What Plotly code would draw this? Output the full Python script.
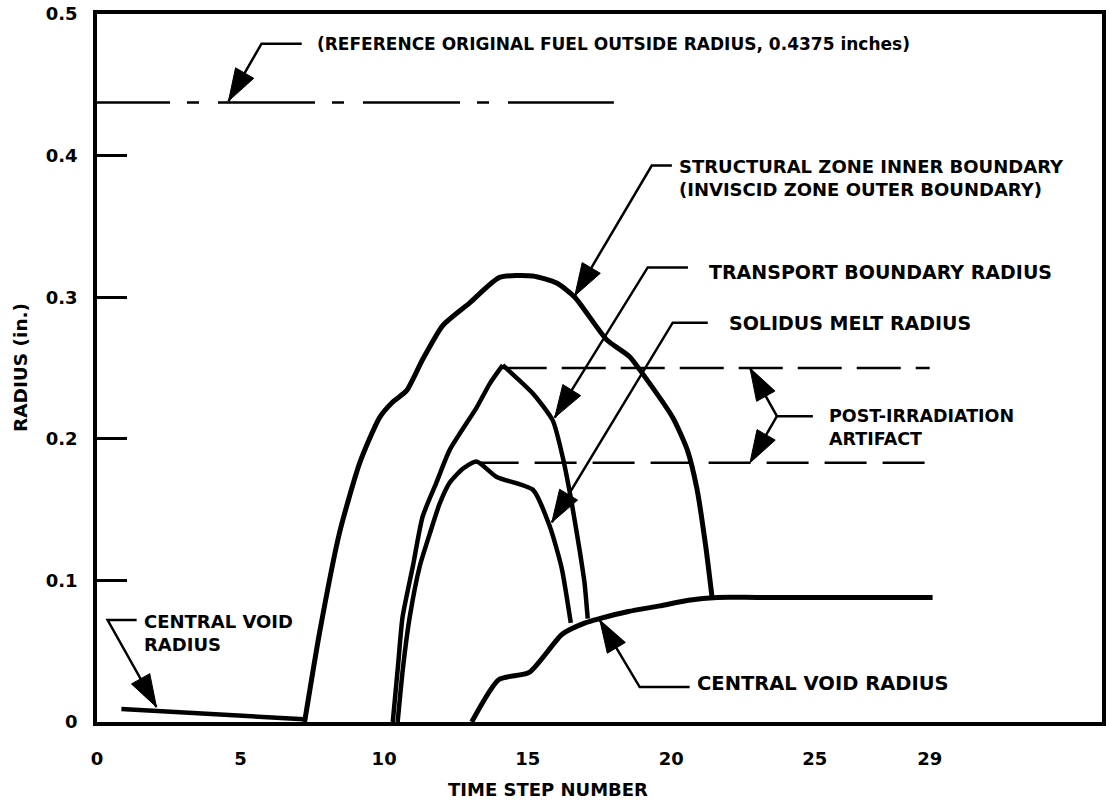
import plotly.graph_objects as go

# ---------------- data ----------------
void_early_x = [0.85, 7.2]
void_early_y = [0.0092, 0.002]

struct_x = [7.23, 7.75, 8.45, 9.15, 9.84, 10.30, 10.78, 11.34, 12.04, 12.98, 14.02,
            15.17, 16.01, 16.64, 17.75, 18.55, 19.0, 20.05, 20.56, 20.89, 21.2, 21.42]
struct_y = [0.0, 0.063, 0.134, 0.183, 0.215, 0.226, 0.234, 0.256, 0.280, 0.296, 0.314,
            0.315, 0.310, 0.300, 0.270, 0.258, 0.246, 0.215, 0.192, 0.165, 0.124, 0.088]

transport_rise_x = [10.30, 10.48, 10.64, 11.0, 11.34, 11.82, 12.28, 13.22, 13.68, 14.13]
transport_rise_y = [0.0, 0.039, 0.074, 0.110, 0.145, 0.169, 0.192, 0.222, 0.239, 0.252]
transport_fall_x = [14.13, 15.18, 15.87, 16.22, 16.53, 16.81, 16.98, 17.09]
transport_fall_y = [0.252, 0.232, 0.213, 0.187, 0.155, 0.121, 0.098, 0.073]

solidus_x = [10.47, 10.66, 10.89, 11.24, 11.59, 11.93, 12.28, 12.75, 13.22, 13.92,
             15.18, 15.77, 16.18, 16.5]
solidus_y = [0.0, 0.039, 0.074, 0.110, 0.133, 0.154, 0.169, 0.179, 0.184, 0.173,
             0.164, 0.138, 0.109, 0.070]

void_x = [13.05, 14.0, 15.05, 16.2, 17.0, 17.5, 18.5, 19.6, 20.6, 21.6, 23.0, 29.1]
void_y = [0.0, 0.030, 0.035, 0.062, 0.070, 0.073, 0.078, 0.082, 0.086, 0.088, 0.088, 0.088]

ref_radius = 0.4375
ref_x = [0.0, 18.0]
artifact_hi = 0.25
artifact_hi_x = [14.13, 29.0]
artifact_lo = 0.183
artifact_lo_x = [13.22, 29.1]

x_tick_labels = [0, 5, 10, 15, 20, 25, 29]
x_tick_marks = [5, 10, 15, 20, 25, 30]
y_ticks = [0, 0.1, 0.2, 0.3, 0.4, 0.5]
y_tick_text = ["0", "0.1", "0.2", "0.3", "0.4", "0.5"]

# annotation leaders: (x list, y list) -> horizontal stub, elbow, arrow tip
leaders = {
    "ref": ([7.13, 5.73, 4.58], [0.479, 0.479, 0.4385]),
    "struct": ([20.02, 19.32, 16.64], [0.393, 0.393, 0.301]),
    "transport": ([20.58, 19.18, 15.94], [0.321, 0.321, 0.215]),
    "solidus": ([21.27, 20.05, 15.84], [0.282, 0.282, 0.141]),
    "void_left": ([1.38, 0.37, 2.07], [0.072, 0.072, 0.0106]),
    "void_right": ([20.64, 18.90, 17.51], [0.0247, 0.0247, 0.072]),
    "art_up": ([24.93, 23.68, 22.74], [0.216, 0.216, 0.250]),
    "art_down": ([23.68, 22.74], [0.216, 0.183]),
}

labels = [
    (7.58, 0.479, "(REFERENCE ORIGINAL FUEL OUTSIDE RADIUS, 0.4375 inches)", 17),
    (20.19, 0.384, "STRUCTURAL ZONE INNER BOUNDARY<br>(INVISCID ZONE OUTER BOUNDARY)", 18),
    (21.24, 0.318, "TRANSPORT BOUNDARY RADIUS", 19),
    (21.93, 0.282, "SOLIDUS MELT RADIUS", 19),
    (25.42, 0.208, "POST-IRRADIATION<br>ARTIFACT", 17.5),
    (1.55, 0.063, "CENTRAL VOID<br>RADIUS", 18),
    (20.82, 0.0275, "CENTRAL VOID RADIUS", 19.5),
]

FONT = "DejaVu Sans"
BLACK = "black"

fig = go.Figure()

def curve(x, y, w, shape="spline"):
    fig.add_trace(go.Scatter(x=x, y=y, mode="lines",
                             line=dict(color=BLACK, width=w, shape=shape, smoothing=0.6),
                             hoverinfo="skip", showlegend=False))

curve(void_early_x, void_early_y, 4.5, "linear")
curve(struct_x, struct_y, 5)
curve(transport_rise_x, transport_rise_y, 4.5)
curve(transport_fall_x, transport_fall_y, 4.5)
curve(solidus_x, solidus_y, 4.5)
curve(void_x, void_y, 5)

# dashed reference lines
fig.add_trace(go.Scatter(x=ref_x, y=[ref_radius] * 2, mode="lines",
                         line=dict(color=BLACK, width=2.5,
                                   dash="73px,17px,12px,19px,97px,17px,12px,19px,97px,17px,12px,19px,110px,17px"),
                         hoverinfo="skip", showlegend=False))
fig.add_trace(go.Scatter(x=artifact_hi_x, y=[artifact_hi] * 2, mode="lines",
                         line=dict(color=BLACK, width=2.5, dash="44px,15px"),
                         hoverinfo="skip", showlegend=False))
fig.add_trace(go.Scatter(x=artifact_lo_x, y=[artifact_lo] * 2, mode="lines",
                         line=dict(color=BLACK, width=2.5, dash="42px,16px"),
                         hoverinfo="skip", showlegend=False))

# leaders with arrowheads
for key, (lx, ly) in leaders.items():
    n = len(lx)
    fig.add_trace(go.Scatter(
        x=lx, y=ly, mode="lines+markers",
        line=dict(color=BLACK, width=2.5),
        marker=dict(symbol=["circle"] * (n - 1) + ["arrow"],
                    size=[0] * (n - 1) + [34],
                    angleref="previous", color=BLACK, opacity=1,
                    line=dict(width=1, color=BLACK)),
        opacity=1,
        hoverinfo="skip", showlegend=False, cliponaxis=False))

for x, y, t, s in labels:
    fig.add_annotation(x=x, y=y, xref="x", yref="y", text=t, showarrow=False,
                       xanchor="left", yanchor="middle", align="left",
                       font=dict(family=FONT, size=s, color=BLACK, weight="bold"))

# axis titles
fig.add_annotation(x=(548 - 97) / 1005, y=(722 - 789) / 708, xref="paper", yref="paper",
                   text="TIME STEP NUMBER", showarrow=False, xanchor="center", yanchor="middle",
                   font=dict(family=FONT, size=18, color=BLACK, weight="bold"))
fig.add_annotation(x=(20 - 97) / 1005, y=(722 - 368) / 708, xref="paper", yref="paper",
                   text="RADIUS (in.)", showarrow=False, textangle=-90,
                   xanchor="center", yanchor="middle",
                   font=dict(family=FONT, size=18.5, color=BLACK, weight="bold"))

tickfont = dict(family=FONT, size=18, color=BLACK, weight="bold")

fig.update_layout(
    width=1106, height=806,
    margin=dict(l=97, r=4, t=14, b=84, autoexpand=False),
    paper_bgcolor="white", plot_bgcolor="white",
    xaxis=dict(range=[0, 35], tickvals=x_tick_labels, ticktext=[str(v) for v in x_tick_labels],
               ticks="", showgrid=False, zeroline=False, showline=True, linecolor=BLACK,
               linewidth=3.5, mirror=True, tickfont=tickfont, ticklabelstandoff=18),
    xaxis2=dict(range=[0, 35], overlaying="x", anchor="y", side="bottom",
                tickvals=x_tick_marks, ticks="inside", ticklen=27, tickwidth=2.5,
                tickcolor=BLACK, showticklabels=False, showgrid=False, zeroline=False,
                showline=False),
    yaxis=dict(range=[0, 0.5], tickvals=y_ticks, ticktext=y_tick_text, ticks="inside",
               ticklen=30, tickwidth=2.5, tickcolor=BLACK, showgrid=False, zeroline=False,
               showline=True, linecolor=BLACK, linewidth=3.5, mirror=True,
               tickfont=tickfont, ticklabelstandoff=12),
)

fig.write_html("out.html")
